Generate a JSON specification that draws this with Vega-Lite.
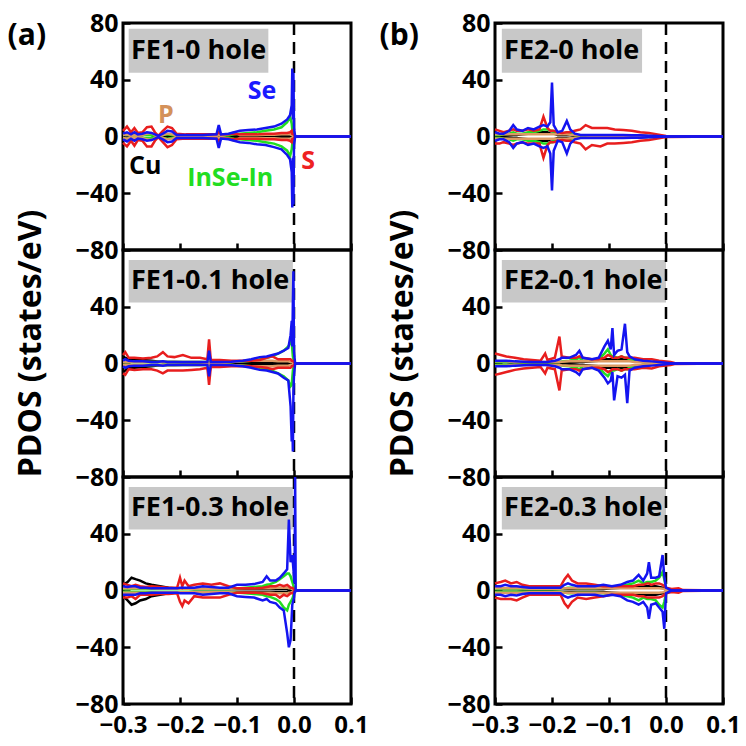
{
"$schema":"https://vega.github.io/schema/vega-lite/v6.json",
"background":"white",
"padding":{"left":7,"top":9,"right":0,"bottom":0},
"config":{
 "view":{"stroke":"black","strokeWidth":3},
 "font":"Open Sans",
 "axis":{"labelFont":"Open Sans","labelFontWeight":"bold","labelFontSize":25,"labelColor":"black","titleFont":"Open Sans","titleFontWeight":"bold","titleFontSize":32,"titleColor":"black","grid":false,"domain":false,"tickColor":"black","tickWidth":2.5,"tickSize":-7,"labelPadding":12,"labelFlush":false,"labelOverlap":false},
 "title":{"font":"Open Sans","fontWeight":"bold","fontSize":30,"color":"black","anchor":"start","frame":"bounds"}
},
"datasets":{"d":[
{"p":"a0","e":-0.3,"Cu_u":1.5,"Cu_d":-1.5,"P_u":1,"P_d":-1,"In_u":1,"In_d":-1,"S_u":4,"S_d":-4.5,"Se_u":2,"Se_d":-2},
{"p":"a0","e":-0.293,"Cu_u":2,"Cu_d":-2,"P_u":1.5,"P_d":-1.5,"In_u":1.5,"In_d":-1.5,"S_u":7,"S_d":-7,"Se_u":3,"Se_d":-3.5},
{"p":"a0","e":-0.286,"Cu_u":1,"Cu_d":-1,"P_u":0.5,"P_d":-0.5,"In_u":0.5,"In_d":-0.5,"S_u":3,"S_d":-3,"Se_u":1.5,"Se_d":-1.5},
{"p":"a0","e":-0.28,"Cu_u":1.5,"Cu_d":-1.5,"P_u":1,"P_d":-1,"In_u":1,"In_d":-1,"S_u":6,"S_d":-6.5,"Se_u":3,"Se_d":-3},
{"p":"a0","e":-0.274,"Cu_u":1,"Cu_d":-1,"P_u":0.5,"P_d":-0.5,"In_u":0.5,"In_d":-0.5,"S_u":2.5,"S_d":-2.5,"Se_u":1.5,"Se_d":-1.5},
{"p":"a0","e":-0.266,"Cu_u":1,"Cu_d":-1,"P_u":1,"P_d":-1,"In_u":1,"In_d":-1,"S_u":3,"S_d":-3,"Se_u":2,"Se_d":-2},
{"p":"a0","e":-0.258,"Cu_u":1.5,"Cu_d":-1.5,"P_u":2,"P_d":-2,"In_u":1,"In_d":-1,"S_u":6.5,"S_d":-7,"Se_u":3,"Se_d":-3},
{"p":"a0","e":-0.25,"Cu_u":1,"Cu_d":-1,"P_u":2.5,"P_d":-2.5,"In_u":1,"In_d":-1,"S_u":7,"S_d":-7,"Se_u":2.5,"Se_d":-2.5},
{"p":"a0","e":-0.244,"Cu_u":0.5,"Cu_d":-0.5,"P_u":1,"P_d":-1,"In_u":0.5,"In_d":-0.5,"S_u":3,"S_d":-3,"Se_u":1.5,"Se_d":-1.5},
{"p":"a0","e":-0.238,"Cu_u":0.3,"Cu_d":-0.3,"P_u":0.3,"P_d":-0.3,"In_u":0.3,"In_d":-0.3,"S_u":0.5,"S_d":-0.5,"Se_u":0.5,"Se_d":-0.5},
{"p":"a0","e":-0.23,"Cu_u":0.5,"Cu_d":-0.5,"P_u":1,"P_d":-1,"In_u":1,"In_d":-1,"S_u":4,"S_d":-4,"Se_u":2,"Se_d":-2},
{"p":"a0","e":-0.222,"Cu_u":0.5,"Cu_d":-0.5,"P_u":2,"P_d":-2,"In_u":1.5,"In_d":-1.5,"S_u":7,"S_d":-7.5,"Se_u":4,"Se_d":-4},
{"p":"a0","e":-0.214,"Cu_u":0.5,"Cu_d":-0.5,"P_u":1.5,"P_d":-1.5,"In_u":1,"In_d":-1,"S_u":6,"S_d":-6,"Se_u":3.5,"Se_d":-3.5},
{"p":"a0","e":-0.206,"Cu_u":0.3,"Cu_d":-0.3,"P_u":0.5,"P_d":-0.5,"In_u":0.5,"In_d":-0.5,"S_u":2,"S_d":-2,"Se_u":1,"Se_d":-1},
{"p":"a0","e":-0.19,"Cu_u":0.3,"Cu_d":-0.3,"P_u":0.5,"P_d":-0.5,"In_u":0.5,"In_d":-0.5,"S_u":1.5,"S_d":-1.5,"Se_u":1,"Se_d":-1},
{"p":"a0","e":-0.16,"Cu_u":0.3,"Cu_d":-0.3,"P_u":0.5,"P_d":-0.5,"In_u":0.5,"In_d":-0.5,"S_u":1.5,"S_d":-1.5,"Se_u":1,"Se_d":-1},
{"p":"a0","e":-0.136,"Cu_u":0.3,"Cu_d":-0.3,"P_u":0.5,"P_d":-0.5,"In_u":0.5,"In_d":-0.5,"S_u":1.5,"S_d":-1.5,"Se_u":1.5,"Se_d":-1.5},
{"p":"a0","e":-0.132,"Cu_u":0.5,"Cu_d":-0.5,"P_u":1,"P_d":-1,"In_u":2,"In_d":-2,"S_u":3,"S_d":-3,"Se_u":8,"Se_d":-8},
{"p":"a0","e":-0.128,"Cu_u":0.3,"Cu_d":-0.3,"P_u":0.5,"P_d":-0.5,"In_u":0.5,"In_d":-0.5,"S_u":1.5,"S_d":-1.5,"Se_u":1.5,"Se_d":-1.5},
{"p":"a0","e":-0.115,"Cu_u":0.3,"Cu_d":-0.3,"P_u":1.5,"P_d":-1.5,"In_u":0.8,"In_d":-0.8,"S_u":1.5,"S_d":-1.5,"Se_u":2,"Se_d":-2},
{"p":"a0","e":-0.105,"Cu_u":0.3,"Cu_d":-0.3,"P_u":3,"P_d":-3,"In_u":1.5,"In_d":-1.5,"S_u":2,"S_d":-2,"Se_u":3,"Se_d":-3},
{"p":"a0","e":-0.095,"Cu_u":0.3,"Cu_d":-0.3,"P_u":1,"P_d":-1,"In_u":2,"In_d":-2,"S_u":1.5,"S_d":-1.5,"Se_u":4,"Se_d":-4},
{"p":"a0","e":-0.08,"Cu_u":0.3,"Cu_d":-0.3,"P_u":1,"P_d":-1,"In_u":2.5,"In_d":-2.5,"S_u":1.5,"S_d":-1.5,"Se_u":4.5,"Se_d":-4.5},
{"p":"a0","e":-0.065,"Cu_u":0.3,"Cu_d":-0.3,"P_u":1,"P_d":-1,"In_u":3,"In_d":-3,"S_u":1.5,"S_d":-1.5,"Se_u":5,"Se_d":-5.5},
{"p":"a0","e":-0.05,"Cu_u":0.4,"Cu_d":-0.4,"P_u":1.2,"P_d":-1.2,"In_u":4,"In_d":-4,"S_u":2,"S_d":-2,"Se_u":6,"Se_d":-6},
{"p":"a0","e":-0.035,"Cu_u":0.4,"Cu_d":-0.4,"P_u":1.2,"P_d":-1.2,"In_u":5,"In_d":-5,"S_u":2,"S_d":-2,"Se_u":7,"Se_d":-7.5},
{"p":"a0","e":-0.022,"Cu_u":0.5,"Cu_d":-0.5,"P_u":1.5,"P_d":-1.5,"In_u":6.5,"In_d":-7,"S_u":2.5,"S_d":-2.5,"Se_u":9,"Se_d":-9},
{"p":"a0","e":-0.012,"Cu_u":0.5,"Cu_d":-0.5,"P_u":1.5,"P_d":-1.5,"In_u":10,"In_d":-10,"S_u":2.5,"S_d":-2.5,"Se_u":12,"Se_d":-13},
{"p":"a0","e":-0.007,"Cu_u":0.5,"Cu_d":-0.5,"P_u":1.5,"P_d":-1.5,"In_u":14,"In_d":-14,"S_u":3,"S_d":-3,"Se_u":15,"Se_d":-16},
{"p":"a0","e":-0.004,"Cu_u":0.5,"Cu_d":-0.5,"P_u":1,"P_d":-1,"In_u":9,"In_d":-9,"S_u":4,"S_d":-4,"Se_u":22,"Se_d":-25},
{"p":"a0","e":-0.003,"Cu_u":0.5,"Cu_d":-0.5,"P_u":1,"P_d":-1,"In_u":5,"In_d":-5,"S_u":2,"S_d":-2,"Se_u":48,"Se_d":-50},
{"p":"a0","e":-0.002,"Cu_u":0.3,"Cu_d":-0.3,"P_u":0.5,"P_d":-0.5,"In_u":3,"In_d":-3,"S_u":2,"S_d":-2,"Se_u":12,"Se_d":-15},
{"p":"a0","e":-0.001,"Cu_u":0.3,"Cu_d":-0.3,"P_u":0.5,"P_d":-0.5,"In_u":3,"In_d":-3,"S_u":1.5,"S_d":-1.5,"Se_u":45,"Se_d":-48},
{"p":"a0","e":0,"Cu_u":0.2,"Cu_d":-0.2,"P_u":0.3,"P_d":-0.3,"In_u":2,"In_d":-2,"S_u":1,"S_d":-1,"Se_u":6,"Se_d":-6},
{"p":"a0","e":0.002,"Cu_u":0,"Cu_d":0,"P_u":0,"P_d":0,"In_u":0,"In_d":0,"S_u":0,"S_d":0,"Se_u":0,"Se_d":0},
{"p":"a0","e":0.1,"Cu_u":0,"Cu_d":0,"P_u":0,"P_d":0,"In_u":0,"In_d":0,"S_u":0,"S_d":0,"Se_u":0,"Se_d":0},

{"p":"a1","e":-0.3,"Cu_u":5,"Cu_d":-6,"P_u":1,"P_d":-1,"In_u":1,"In_d":-1,"S_u":6,"S_d":-7,"Se_u":2,"Se_d":-2},
{"p":"a1","e":-0.296,"Cu_u":4,"Cu_d":-5,"P_u":1,"P_d":-1,"In_u":1,"In_d":-1,"S_u":8,"S_d":-8,"Se_u":3,"Se_d":-3},
{"p":"a1","e":-0.29,"Cu_u":3,"Cu_d":-3,"P_u":1,"P_d":-1,"In_u":1,"In_d":-1,"S_u":4,"S_d":-4,"Se_u":2,"Se_d":-2},
{"p":"a1","e":-0.28,"Cu_u":3,"Cu_d":-3,"P_u":1,"P_d":-1,"In_u":1,"In_d":-1,"S_u":4,"S_d":-4.5,"Se_u":1.5,"Se_d":-1.5},
{"p":"a1","e":-0.265,"Cu_u":2.5,"Cu_d":-2.5,"P_u":1,"P_d":-1,"In_u":1,"In_d":-1,"S_u":3.5,"S_d":-4,"Se_u":1.5,"Se_d":-1.5},
{"p":"a1","e":-0.25,"Cu_u":2,"Cu_d":-2,"P_u":1,"P_d":-1,"In_u":1,"In_d":-1,"S_u":4,"S_d":-4,"Se_u":1,"Se_d":-1},
{"p":"a1","e":-0.24,"Cu_u":1.5,"Cu_d":-1.5,"P_u":1,"P_d":-1,"In_u":1,"In_d":-1,"S_u":5,"S_d":-5,"Se_u":1,"Se_d":-1},
{"p":"a1","e":-0.23,"Cu_u":1,"Cu_d":-1,"P_u":1,"P_d":-1,"In_u":1,"In_d":-1,"S_u":8,"S_d":-7,"Se_u":1.5,"Se_d":-1.5},
{"p":"a1","e":-0.222,"Cu_u":1,"Cu_d":-1,"P_u":1,"P_d":-1,"In_u":1,"In_d":-1,"S_u":5,"S_d":-5,"Se_u":1,"Se_d":-1},
{"p":"a1","e":-0.21,"Cu_u":1,"Cu_d":-1,"P_u":1,"P_d":-1,"In_u":1,"In_d":-1,"S_u":4.5,"S_d":-5,"Se_u":1,"Se_d":-1},
{"p":"a1","e":-0.195,"Cu_u":0.8,"Cu_d":-0.8,"P_u":1,"P_d":-1,"In_u":1,"In_d":-1,"S_u":6,"S_d":-5,"Se_u":1,"Se_d":-1},
{"p":"a1","e":-0.18,"Cu_u":0.8,"Cu_d":-0.8,"P_u":1,"P_d":-1,"In_u":1,"In_d":-1,"S_u":4,"S_d":-4.5,"Se_u":1,"Se_d":-1},
{"p":"a1","e":-0.165,"Cu_u":0.8,"Cu_d":-0.8,"P_u":1,"P_d":-1,"In_u":1,"In_d":-1,"S_u":4,"S_d":-4,"Se_u":1,"Se_d":-1},
{"p":"a1","e":-0.152,"Cu_u":0.5,"Cu_d":-0.5,"P_u":0.5,"P_d":-0.5,"In_u":1,"In_d":-1,"S_u":3,"S_d":-3,"Se_u":1,"Se_d":-1},
{"p":"a1","e":-0.149,"Cu_u":0.5,"Cu_d":-0.5,"P_u":0.5,"P_d":-0.5,"In_u":1,"In_d":-1,"S_u":17,"S_d":-15,"Se_u":9,"Se_d":-9},
{"p":"a1","e":-0.146,"Cu_u":0.5,"Cu_d":-0.5,"P_u":0.5,"P_d":-0.5,"In_u":1,"In_d":-1,"S_u":2.5,"S_d":-2.5,"Se_u":1,"Se_d":-1},
{"p":"a1","e":-0.13,"Cu_u":0.5,"Cu_d":-0.5,"P_u":0.5,"P_d":-0.5,"In_u":0.8,"In_d":-0.8,"S_u":2.5,"S_d":-2.5,"Se_u":1,"Se_d":-1},
{"p":"a1","e":-0.11,"Cu_u":0.5,"Cu_d":-0.5,"P_u":1,"P_d":-1,"In_u":1,"In_d":-1,"S_u":2,"S_d":-2,"Se_u":1.2,"Se_d":-1.2},
{"p":"a1","e":-0.09,"Cu_u":0.5,"Cu_d":-0.5,"P_u":1.5,"P_d":-1.5,"In_u":1.5,"In_d":-1.5,"S_u":2,"S_d":-2,"Se_u":2,"Se_d":-2},
{"p":"a1","e":-0.075,"Cu_u":0.5,"Cu_d":-0.5,"P_u":2,"P_d":-2,"In_u":2,"In_d":-2,"S_u":2,"S_d":-2,"Se_u":3,"Se_d":-3},
{"p":"a1","e":-0.06,"Cu_u":0.5,"Cu_d":-0.5,"P_u":2,"P_d":-2,"In_u":3,"In_d":-3,"S_u":2.5,"S_d":-2.5,"Se_u":4.5,"Se_d":-4.5},
{"p":"a1","e":-0.048,"Cu_u":0.5,"Cu_d":-0.5,"P_u":2,"P_d":-2,"In_u":4,"In_d":-4,"S_u":4,"S_d":-3,"Se_u":5,"Se_d":-5},
{"p":"a1","e":-0.038,"Cu_u":0.5,"Cu_d":-0.5,"P_u":2,"P_d":-2,"In_u":5,"In_d":-5,"S_u":5,"S_d":-4,"Se_u":6,"Se_d":-6},
{"p":"a1","e":-0.028,"Cu_u":0.5,"Cu_d":-0.5,"P_u":1.5,"P_d":-1.5,"In_u":7,"In_d":-7,"S_u":3,"S_d":-3,"Se_u":7,"Se_d":-7},
{"p":"a1","e":-0.018,"Cu_u":0.5,"Cu_d":-0.5,"P_u":1.5,"P_d":-1.5,"In_u":9,"In_d":-9,"S_u":3,"S_d":-3,"Se_u":9,"Se_d":-10},
{"p":"a1","e":-0.01,"Cu_u":0.5,"Cu_d":-0.5,"P_u":1.5,"P_d":-1.5,"In_u":12,"In_d":-12,"S_u":3,"S_d":-3,"Se_u":11,"Se_d":-12},
{"p":"a1","e":-0.006,"Cu_u":0.5,"Cu_d":-0.5,"P_u":1,"P_d":-1,"In_u":15,"In_d":-16,"S_u":3,"S_d":-3,"Se_u":20,"Se_d":-30},
{"p":"a1","e":-0.004,"Cu_u":0.5,"Cu_d":-0.5,"P_u":1,"P_d":-1,"In_u":14,"In_d":-15,"S_u":2,"S_d":-2,"Se_u":30,"Se_d":-55},
{"p":"a1","e":-0.003,"Cu_u":0.5,"Cu_d":-0.5,"P_u":1,"P_d":-1,"In_u":10,"In_d":-10,"S_u":2,"S_d":-2,"Se_u":12,"Se_d":-38},
{"p":"a1","e":-0.002,"Cu_u":0.3,"Cu_d":-0.3,"P_u":0.5,"P_d":-0.5,"In_u":5,"In_d":-5,"S_u":2,"S_d":-2,"Se_u":42,"Se_d":-62},
{"p":"a1","e":-0.001,"Cu_u":0.3,"Cu_d":-0.3,"P_u":0.5,"P_d":-0.5,"In_u":3,"In_d":-3,"S_u":1.5,"S_d":-1.5,"Se_u":65,"Se_d":-20},
{"p":"a1","e":0,"Cu_u":0.2,"Cu_d":-0.2,"P_u":0.3,"P_d":-0.3,"In_u":2,"In_d":-2,"S_u":1,"S_d":-1,"Se_u":8,"Se_d":-8},
{"p":"a1","e":0.002,"Cu_u":0,"Cu_d":0,"P_u":0,"P_d":0,"In_u":0,"In_d":0,"S_u":0,"S_d":0,"Se_u":0,"Se_d":0},
{"p":"a1","e":0.1,"Cu_u":0,"Cu_d":0,"P_u":0,"P_d":0,"In_u":0,"In_d":0,"S_u":0,"S_d":0,"Se_u":0,"Se_d":0},

{"p":"a2","e":-0.3,"Cu_u":4,"Cu_d":-4,"P_u":1.5,"P_d":-1.5,"In_u":1,"In_d":-1,"S_u":5,"S_d":-5,"Se_u":3,"Se_d":-3},
{"p":"a2","e":-0.292,"Cu_u":6,"Cu_d":-7,"P_u":1.5,"P_d":-1.5,"In_u":1,"In_d":-1,"S_u":4,"S_d":-5,"Se_u":2.5,"Se_d":-3},
{"p":"a2","e":-0.285,"Cu_u":9,"Cu_d":-10,"P_u":1.5,"P_d":-1.5,"In_u":1,"In_d":-1,"S_u":3,"S_d":-4,"Se_u":3,"Se_d":-3},
{"p":"a2","e":-0.278,"Cu_u":8,"Cu_d":-9,"P_u":1.5,"P_d":-1.5,"In_u":1,"In_d":-1,"S_u":4,"S_d":-6,"Se_u":3,"Se_d":-3},
{"p":"a2","e":-0.27,"Cu_u":7,"Cu_d":-7,"P_u":1.5,"P_d":-1.5,"In_u":1,"In_d":-1,"S_u":3,"S_d":-3,"Se_u":2,"Se_d":-2},
{"p":"a2","e":-0.26,"Cu_u":5,"Cu_d":-6,"P_u":1.5,"P_d":-1.5,"In_u":1,"In_d":-1,"S_u":2.5,"S_d":-3,"Se_u":2,"Se_d":-2},
{"p":"a2","e":-0.25,"Cu_u":4,"Cu_d":-4,"P_u":1.5,"P_d":-1.5,"In_u":1,"In_d":-1,"S_u":3,"S_d":-3,"Se_u":1.5,"Se_d":-1.5},
{"p":"a2","e":-0.235,"Cu_u":3,"Cu_d":-3,"P_u":1.2,"P_d":-1.2,"In_u":1,"In_d":-1,"S_u":2.5,"S_d":-2.5,"Se_u":1.5,"Se_d":-1.5},
{"p":"a2","e":-0.22,"Cu_u":2,"Cu_d":-2,"P_u":1.2,"P_d":-1.2,"In_u":1,"In_d":-1,"S_u":2,"S_d":-2.5,"Se_u":1.5,"Se_d":-1.5},
{"p":"a2","e":-0.205,"Cu_u":1.5,"Cu_d":-1.5,"P_u":1.2,"P_d":-1.2,"In_u":1,"In_d":-1,"S_u":2,"S_d":-2,"Se_u":1.5,"Se_d":-1.5},
{"p":"a2","e":-0.2,"Cu_u":1.5,"Cu_d":-1.5,"P_u":1.2,"P_d":-1.2,"In_u":1,"In_d":-1,"S_u":9,"S_d":-8,"Se_u":2,"Se_d":-2},
{"p":"a2","e":-0.196,"Cu_u":1.5,"Cu_d":-1.5,"P_u":1.2,"P_d":-1.2,"In_u":1,"In_d":-1,"S_u":3,"S_d":-11,"Se_u":2,"Se_d":-2},
{"p":"a2","e":-0.192,"Cu_u":1.5,"Cu_d":-1.5,"P_u":1.2,"P_d":-1.2,"In_u":1,"In_d":-1,"S_u":7,"S_d":-7,"Se_u":2,"Se_d":-2},
{"p":"a2","e":-0.185,"Cu_u":1.2,"Cu_d":-1.2,"P_u":1.2,"P_d":-1.2,"In_u":1,"In_d":-1,"S_u":3,"S_d":-9,"Se_u":2,"Se_d":-2},
{"p":"a2","e":-0.175,"Cu_u":1,"Cu_d":-1,"P_u":1.2,"P_d":-1.2,"In_u":1,"In_d":-1,"S_u":4,"S_d":-4,"Se_u":2,"Se_d":-2},
{"p":"a2","e":-0.16,"Cu_u":1,"Cu_d":-1,"P_u":1.2,"P_d":-1.2,"In_u":1,"In_d":-1,"S_u":5,"S_d":-5,"Se_u":3,"Se_d":-3},
{"p":"a2","e":-0.145,"Cu_u":1,"Cu_d":-1,"P_u":1.2,"P_d":-1.2,"In_u":1,"In_d":-1,"S_u":4,"S_d":-5,"Se_u":2.5,"Se_d":-2.5},
{"p":"a2","e":-0.13,"Cu_u":1,"Cu_d":-1,"P_u":1.2,"P_d":-1.2,"In_u":1,"In_d":-1,"S_u":5,"S_d":-5,"Se_u":2,"Se_d":-2},
{"p":"a2","e":-0.115,"Cu_u":1,"Cu_d":-1,"P_u":1.2,"P_d":-1.2,"In_u":1,"In_d":-1,"S_u":3,"S_d":-3,"Se_u":2,"Se_d":-2},
{"p":"a2","e":-0.1,"Cu_u":1,"Cu_d":-1,"P_u":1.5,"P_d":-1.5,"In_u":1.5,"In_d":-1.5,"S_u":1.5,"S_d":-1.5,"Se_u":4,"Se_d":-4},
{"p":"a2","e":-0.085,"Cu_u":1,"Cu_d":-1,"P_u":1.5,"P_d":-1.5,"In_u":2,"In_d":-2,"S_u":1.5,"S_d":-1.5,"Se_u":4,"Se_d":-4.5},
{"p":"a2","e":-0.07,"Cu_u":1,"Cu_d":-1,"P_u":1.5,"P_d":-1.5,"In_u":2.5,"In_d":-2.5,"S_u":1.5,"S_d":-1.5,"Se_u":4.5,"Se_d":-5},
{"p":"a2","e":-0.055,"Cu_u":1,"Cu_d":-1,"P_u":1.5,"P_d":-1.5,"In_u":3,"In_d":-3,"S_u":2,"S_d":-2,"Se_u":6,"Se_d":-7},
{"p":"a2","e":-0.048,"Cu_u":1,"Cu_d":-1,"P_u":1.5,"P_d":-1.5,"In_u":4,"In_d":-4,"S_u":2.5,"S_d":-2.5,"Se_u":10,"Se_d":-6},
{"p":"a2","e":-0.042,"Cu_u":1,"Cu_d":-1,"P_u":1.5,"P_d":-1.5,"In_u":4.5,"In_d":-4.5,"S_u":3,"S_d":-3,"Se_u":7,"Se_d":-8},
{"p":"a2","e":-0.032,"Cu_u":1,"Cu_d":-1,"P_u":2,"P_d":-2,"In_u":6,"In_d":-6,"S_u":3,"S_d":-3,"Se_u":7,"Se_d":-9},
{"p":"a2","e":-0.025,"Cu_u":1,"Cu_d":-1,"P_u":2,"P_d":-2,"In_u":8,"In_d":-8,"S_u":4,"S_d":-5,"Se_u":9,"Se_d":-12},
{"p":"a2","e":-0.018,"Cu_u":1,"Cu_d":-1,"P_u":2,"P_d":-2,"In_u":10,"In_d":-12,"S_u":3,"S_d":-3,"Se_u":12,"Se_d":-14},
{"p":"a2","e":-0.012,"Cu_u":1,"Cu_d":-1,"P_u":2,"P_d":-2,"In_u":12,"In_d":-14,"S_u":4,"S_d":-4,"Se_u":15,"Se_d":-30},
{"p":"a2","e":-0.009,"Cu_u":0.5,"Cu_d":-0.5,"P_u":1.5,"P_d":-1.5,"In_u":12,"In_d":-10,"S_u":3,"S_d":-3,"Se_u":50,"Se_d":-40},
{"p":"a2","e":-0.006,"Cu_u":0.5,"Cu_d":-0.5,"P_u":1.5,"P_d":-1.5,"In_u":10,"In_d":-8,"S_u":2,"S_d":-2,"Se_u":20,"Se_d":-35},
{"p":"a2","e":-0.003,"Cu_u":0.5,"Cu_d":-0.5,"P_u":1,"P_d":-1,"In_u":6,"In_d":-6,"S_u":2,"S_d":-2,"Se_u":25,"Se_d":-10},
{"p":"a2","e":0,"Cu_u":0.3,"Cu_d":-0.3,"P_u":0.5,"P_d":-0.5,"In_u":2,"In_d":-2,"S_u":1,"S_d":-1,"Se_u":10,"Se_d":-5},
{"p":"a2","e":0.001,"Cu_u":0,"Cu_d":0,"P_u":0,"P_d":0,"In_u":0,"In_d":0,"S_u":0,"S_d":0,"Se_u":5,"Se_d":-1},
{"p":"a2","e":0.002,"Cu_u":0,"Cu_d":0,"P_u":0,"P_d":0,"In_u":0,"In_d":0,"S_u":0,"S_d":0,"Se_u":80,"Se_d":-1},
{"p":"a2","e":0.003,"Cu_u":0,"Cu_d":0,"P_u":0,"P_d":0,"In_u":0,"In_d":0,"S_u":0,"S_d":0,"Se_u":0,"Se_d":0},
{"p":"a2","e":0.1,"Cu_u":0,"Cu_d":0,"P_u":0,"P_d":0,"In_u":0,"In_d":0,"S_u":0,"S_d":0,"Se_u":0,"Se_d":0},

{"p":"b0","e":-0.3,"Cu_u":0.5,"Cu_d":-0.5,"P_u":1.5,"P_d":-1.5,"In_u":1,"In_d":-1,"S_u":5,"S_d":-5,"Se_u":3,"Se_d":-3},
{"p":"b0","e":-0.292,"Cu_u":0.5,"Cu_d":-0.5,"P_u":1.5,"P_d":-1.5,"In_u":1,"In_d":-1,"S_u":4,"S_d":-5,"Se_u":2,"Se_d":-2},
{"p":"b0","e":-0.285,"Cu_u":0.5,"Cu_d":-0.5,"P_u":1.5,"P_d":-1.5,"In_u":1.5,"In_d":-1.5,"S_u":3,"S_d":-4,"Se_u":2,"Se_d":-2},
{"p":"b0","e":-0.275,"Cu_u":0.8,"Cu_d":-0.8,"P_u":1.5,"P_d":-1.5,"In_u":2,"In_d":-2,"S_u":4,"S_d":-5,"Se_u":4,"Se_d":-4},
{"p":"b0","e":-0.268,"Cu_u":1,"Cu_d":-1,"P_u":1.5,"P_d":-1.5,"In_u":3,"In_d":-3,"S_u":5,"S_d":-6,"Se_u":8,"Se_d":-8},
{"p":"b0","e":-0.262,"Cu_u":1,"Cu_d":-1,"P_u":1.5,"P_d":-1.5,"In_u":2,"In_d":-2,"S_u":4,"S_d":-5,"Se_u":5,"Se_d":-5},
{"p":"b0","e":-0.252,"Cu_u":1.5,"Cu_d":-1.5,"P_u":1.5,"P_d":-1.5,"In_u":2,"In_d":-2,"S_u":4,"S_d":-4,"Se_u":4,"Se_d":-4},
{"p":"b0","e":-0.242,"Cu_u":2,"Cu_d":-2,"P_u":1.5,"P_d":-1.5,"In_u":3,"In_d":-3,"S_u":5,"S_d":-5,"Se_u":6,"Se_d":-6},
{"p":"b0","e":-0.232,"Cu_u":2,"Cu_d":-2,"P_u":1.5,"P_d":-1.5,"In_u":3,"In_d":-3,"S_u":4,"S_d":-5,"Se_u":5,"Se_d":-5},
{"p":"b0","e":-0.222,"Cu_u":3,"Cu_d":-3,"P_u":1.5,"P_d":-1.5,"In_u":4,"In_d":-4,"S_u":5,"S_d":-5,"Se_u":7,"Se_d":-7},
{"p":"b0","e":-0.215,"Cu_u":3,"Cu_d":-3,"P_u":1.5,"P_d":-1.5,"In_u":5,"In_d":-5,"S_u":14,"S_d":-15,"Se_u":8,"Se_d":-8},
{"p":"b0","e":-0.208,"Cu_u":3,"Cu_d":-3,"P_u":1.5,"P_d":-1.5,"In_u":5,"In_d":-5,"S_u":6,"S_d":-6,"Se_u":7,"Se_d":-7},
{"p":"b0","e":-0.203,"Cu_u":2,"Cu_d":-2,"P_u":1.5,"P_d":-1.5,"In_u":4,"In_d":-4,"S_u":4,"S_d":-4,"Se_u":10,"Se_d":-12},
{"p":"b0","e":-0.2,"Cu_u":2,"Cu_d":-2,"P_u":1.5,"P_d":-1.5,"In_u":4,"In_d":-4,"S_u":4,"S_d":-4,"Se_u":38,"Se_d":-38},
{"p":"b0","e":-0.197,"Cu_u":2,"Cu_d":-2,"P_u":1.5,"P_d":-1.5,"In_u":3,"In_d":-3,"S_u":4,"S_d":-4,"Se_u":8,"Se_d":-10},
{"p":"b0","e":-0.19,"Cu_u":1,"Cu_d":-1,"P_u":1.5,"P_d":-1.5,"In_u":2,"In_d":-2,"S_u":3,"S_d":-3,"Se_u":3,"Se_d":-3},
{"p":"b0","e":-0.182,"Cu_u":1,"Cu_d":-1,"P_u":1.5,"P_d":-1.5,"In_u":2,"In_d":-2,"S_u":2.5,"S_d":-2.5,"Se_u":4,"Se_d":-4},
{"p":"b0","e":-0.174,"Cu_u":1,"Cu_d":-1,"P_u":1.5,"P_d":-1.5,"In_u":3,"In_d":-3,"S_u":3,"S_d":-3,"Se_u":11,"Se_d":-12},
{"p":"b0","e":-0.168,"Cu_u":1,"Cu_d":-1,"P_u":1.2,"P_d":-1.2,"In_u":2,"In_d":-2,"S_u":3,"S_d":-3,"Se_u":5,"Se_d":-5},
{"p":"b0","e":-0.16,"Cu_u":0.5,"Cu_d":-0.5,"P_u":1,"P_d":-1,"In_u":1,"In_d":-1,"S_u":4,"S_d":-4,"Se_u":2,"Se_d":-2},
{"p":"b0","e":-0.15,"Cu_u":0.5,"Cu_d":-0.5,"P_u":0.8,"P_d":-0.8,"In_u":0.8,"In_d":-0.8,"S_u":5,"S_d":-5,"Se_u":1,"Se_d":-1},
{"p":"b0","e":-0.141,"Cu_u":0.5,"Cu_d":-0.5,"P_u":0.8,"P_d":-0.8,"In_u":0.8,"In_d":-0.8,"S_u":8,"S_d":-9,"Se_u":1,"Se_d":-1},
{"p":"b0","e":-0.13,"Cu_u":0.5,"Cu_d":-0.5,"P_u":0.5,"P_d":-0.5,"In_u":0.5,"In_d":-0.5,"S_u":6,"S_d":-6,"Se_u":1,"Se_d":-1},
{"p":"b0","e":-0.115,"Cu_u":0.5,"Cu_d":-0.5,"P_u":0.5,"P_d":-0.5,"In_u":0.5,"In_d":-0.5,"S_u":6,"S_d":-7,"Se_u":1,"Se_d":-1},
{"p":"b0","e":-0.103,"Cu_u":0.5,"Cu_d":-0.5,"P_u":0.5,"P_d":-0.5,"In_u":0.5,"In_d":-0.5,"S_u":6,"S_d":-5,"Se_u":1,"Se_d":-1},
{"p":"b0","e":-0.09,"Cu_u":0.3,"Cu_d":-0.3,"P_u":0.5,"P_d":-0.5,"In_u":0.5,"In_d":-0.5,"S_u":5,"S_d":-5,"Se_u":1,"Se_d":-1},
{"p":"b0","e":-0.075,"Cu_u":0.3,"Cu_d":-0.3,"P_u":0.5,"P_d":-0.5,"In_u":0.5,"In_d":-0.5,"S_u":4.5,"S_d":-4.5,"Se_u":1,"Se_d":-1},
{"p":"b0","e":-0.06,"Cu_u":0.3,"Cu_d":-0.3,"P_u":0.5,"P_d":-0.5,"In_u":0.5,"In_d":-0.5,"S_u":4,"S_d":-4,"Se_u":0.8,"Se_d":-0.8},
{"p":"b0","e":-0.045,"Cu_u":0.3,"Cu_d":-0.3,"P_u":0.5,"P_d":-0.5,"In_u":0.5,"In_d":-0.5,"S_u":3,"S_d":-3,"Se_u":0.8,"Se_d":-0.8},
{"p":"b0","e":-0.03,"Cu_u":0.2,"Cu_d":-0.2,"P_u":0.3,"P_d":-0.3,"In_u":0.3,"In_d":-0.3,"S_u":2.5,"S_d":-2.5,"Se_u":0.5,"Se_d":-0.5},
{"p":"b0","e":-0.015,"Cu_u":0.2,"Cu_d":-0.2,"P_u":0.3,"P_d":-0.3,"In_u":0.3,"In_d":-0.3,"S_u":1.5,"S_d":-1.5,"Se_u":0.3,"Se_d":-0.3},
{"p":"b0","e":0,"Cu_u":0,"Cu_d":0,"P_u":0,"P_d":0,"In_u":0,"In_d":0,"S_u":0.3,"S_d":-0.3,"Se_u":0,"Se_d":0},
{"p":"b0","e":0.1,"Cu_u":0,"Cu_d":0,"P_u":0,"P_d":0,"In_u":0,"In_d":0,"S_u":0,"S_d":0,"Se_u":0,"Se_d":0},

{"p":"b1","e":-0.3,"Cu_u":1,"Cu_d":-1,"P_u":1.5,"P_d":-1.5,"In_u":1,"In_d":-1,"S_u":7,"S_d":-8,"Se_u":2,"Se_d":-2},
{"p":"b1","e":-0.29,"Cu_u":1,"Cu_d":-1,"P_u":1.5,"P_d":-1.5,"In_u":1,"In_d":-1,"S_u":6,"S_d":-7,"Se_u":2,"Se_d":-2},
{"p":"b1","e":-0.28,"Cu_u":1,"Cu_d":-1,"P_u":1.5,"P_d":-1.5,"In_u":1,"In_d":-1,"S_u":5,"S_d":-6,"Se_u":2,"Se_d":-2},
{"p":"b1","e":-0.265,"Cu_u":0.8,"Cu_d":-0.8,"P_u":1,"P_d":-1,"In_u":1,"In_d":-1,"S_u":4,"S_d":-4.5,"Se_u":1.5,"Se_d":-1.5},
{"p":"b1","e":-0.25,"Cu_u":0.5,"Cu_d":-0.5,"P_u":1,"P_d":-1,"In_u":0.8,"In_d":-0.8,"S_u":3,"S_d":-3.5,"Se_u":1.2,"Se_d":-1.2},
{"p":"b1","e":-0.235,"Cu_u":0.5,"Cu_d":-0.5,"P_u":1,"P_d":-1,"In_u":0.8,"In_d":-0.8,"S_u":2.5,"S_d":-3,"Se_u":1,"Se_d":-1},
{"p":"b1","e":-0.22,"Cu_u":0.5,"Cu_d":-0.5,"P_u":1,"P_d":-1,"In_u":0.8,"In_d":-0.8,"S_u":2,"S_d":-2.5,"Se_u":1,"Se_d":-1},
{"p":"b1","e":-0.212,"Cu_u":0.5,"Cu_d":-0.5,"P_u":1,"P_d":-1,"In_u":0.8,"In_d":-0.8,"S_u":7,"S_d":-7,"Se_u":1,"Se_d":-1},
{"p":"b1","e":-0.208,"Cu_u":0.5,"Cu_d":-0.5,"P_u":1,"P_d":-1,"In_u":0.8,"In_d":-0.8,"S_u":2.5,"S_d":-3,"Se_u":1,"Se_d":-1},
{"p":"b1","e":-0.195,"Cu_u":0.5,"Cu_d":-0.5,"P_u":1,"P_d":-1,"In_u":1,"In_d":-1,"S_u":4,"S_d":-4,"Se_u":2,"Se_d":-2},
{"p":"b1","e":-0.187,"Cu_u":0.5,"Cu_d":-0.5,"P_u":1,"P_d":-1,"In_u":1,"In_d":-1,"S_u":19,"S_d":-19,"Se_u":3,"Se_d":-3},
{"p":"b1","e":-0.183,"Cu_u":0.5,"Cu_d":-0.5,"P_u":1.2,"P_d":-1.2,"In_u":1.5,"In_d":-1.5,"S_u":5,"S_d":-5,"Se_u":4,"Se_d":-4},
{"p":"b1","e":-0.17,"Cu_u":0.5,"Cu_d":-0.5,"P_u":1.5,"P_d":-1.5,"In_u":2,"In_d":-2,"S_u":4,"S_d":-4,"Se_u":4,"Se_d":-4},
{"p":"b1","e":-0.158,"Cu_u":0.8,"Cu_d":-0.8,"P_u":1.5,"P_d":-1.5,"In_u":3,"In_d":-3,"S_u":4,"S_d":-4,"Se_u":6,"Se_d":-6},
{"p":"b1","e":-0.152,"Cu_u":1,"Cu_d":-1,"P_u":1.5,"P_d":-1.5,"In_u":4,"In_d":-4,"S_u":5,"S_d":-5,"Se_u":9,"Se_d":-8},
{"p":"b1","e":-0.146,"Cu_u":1,"Cu_d":-1,"P_u":1.5,"P_d":-1.5,"In_u":2,"In_d":-2,"S_u":4,"S_d":-4,"Se_u":4,"Se_d":-4},
{"p":"b1","e":-0.13,"Cu_u":1.5,"Cu_d":-1.5,"P_u":1.5,"P_d":-1.5,"In_u":2,"In_d":-2,"S_u":3,"S_d":-3,"Se_u":3,"Se_d":-3},
{"p":"b1","e":-0.118,"Cu_u":2,"Cu_d":-2,"P_u":1.5,"P_d":-1.5,"In_u":3,"In_d":-3,"S_u":3,"S_d":-3,"Se_u":4,"Se_d":-5},
{"p":"b1","e":-0.108,"Cu_u":3,"Cu_d":-3,"P_u":1.5,"P_d":-1.5,"In_u":7,"In_d":-7,"S_u":4,"S_d":-4,"Se_u":12,"Se_d":-10},
{"p":"b1","e":-0.102,"Cu_u":3,"Cu_d":-3,"P_u":1.5,"P_d":-1.5,"In_u":10,"In_d":-9,"S_u":6,"S_d":-6,"Se_u":16,"Se_d":-14},
{"p":"b1","e":-0.097,"Cu_u":3,"Cu_d":-3,"P_u":1.5,"P_d":-1.5,"In_u":6,"In_d":-6,"S_u":5,"S_d":-5,"Se_u":10,"Se_d":-12},
{"p":"b1","e":-0.094,"Cu_u":3,"Cu_d":-3,"P_u":1.5,"P_d":-1.5,"In_u":5,"In_d":-5,"S_u":4,"S_d":-4,"Se_u":25,"Se_d":-6},
{"p":"b1","e":-0.091,"Cu_u":3,"Cu_d":-3,"P_u":1.5,"P_d":-1.5,"In_u":5,"In_d":-5,"S_u":4,"S_d":-4,"Se_u":6,"Se_d":-26},
{"p":"b1","e":-0.085,"Cu_u":3,"Cu_d":-3,"P_u":1.5,"P_d":-1.5,"In_u":4,"In_d":-4,"S_u":4,"S_d":-4,"Se_u":9,"Se_d":-9},
{"p":"b1","e":-0.078,"Cu_u":3,"Cu_d":-3,"P_u":1.5,"P_d":-1.5,"In_u":5,"In_d":-5,"S_u":5,"S_d":-5,"Se_u":10,"Se_d":-10},
{"p":"b1","e":-0.072,"Cu_u":3,"Cu_d":-3,"P_u":1.5,"P_d":-1.5,"In_u":4,"In_d":-4,"S_u":4,"S_d":-4,"Se_u":28,"Se_d":-8},
{"p":"b1","e":-0.068,"Cu_u":3,"Cu_d":-3,"P_u":1.5,"P_d":-1.5,"In_u":4,"In_d":-4,"S_u":4,"S_d":-4,"Se_u":8,"Se_d":-28},
{"p":"b1","e":-0.064,"Cu_u":2,"Cu_d":-2,"P_u":1.5,"P_d":-1.5,"In_u":3,"In_d":-3,"S_u":4,"S_d":-4,"Se_u":5,"Se_d":-5},
{"p":"b1","e":-0.055,"Cu_u":1.5,"Cu_d":-1.5,"P_u":1,"P_d":-1,"In_u":2,"In_d":-2,"S_u":4,"S_d":-4,"Se_u":3,"Se_d":-3},
{"p":"b1","e":-0.04,"Cu_u":1,"Cu_d":-1,"P_u":0.8,"P_d":-0.8,"In_u":1,"In_d":-1,"S_u":3,"S_d":-3,"Se_u":2,"Se_d":-2},
{"p":"b1","e":-0.025,"Cu_u":0.5,"Cu_d":-0.5,"P_u":0.5,"P_d":-0.5,"In_u":0.8,"In_d":-0.8,"S_u":3,"S_d":-3.5,"Se_u":1.5,"Se_d":-1.5},
{"p":"b1","e":-0.012,"Cu_u":0.3,"Cu_d":-0.3,"P_u":0.3,"P_d":-0.3,"In_u":0.5,"In_d":-0.5,"S_u":2,"S_d":-2,"Se_u":1,"Se_d":-1},
{"p":"b1","e":0,"Cu_u":0.2,"Cu_d":-0.2,"P_u":0.2,"P_d":-0.2,"In_u":0.3,"In_d":-0.3,"S_u":1.5,"S_d":-1.5,"Se_u":0.5,"Se_d":-0.5},
{"p":"b1","e":0.008,"Cu_u":0,"Cu_d":0,"P_u":0,"P_d":0,"In_u":0,"In_d":0,"S_u":1,"S_d":-1,"Se_u":0.2,"Se_d":-0.2},
{"p":"b1","e":0.015,"Cu_u":0,"Cu_d":0,"P_u":0,"P_d":0,"In_u":0,"In_d":0,"S_u":0.3,"S_d":-0.3,"Se_u":0,"Se_d":0},
{"p":"b1","e":0.1,"Cu_u":0,"Cu_d":0,"P_u":0,"P_d":0,"In_u":0,"In_d":0,"S_u":0,"S_d":0,"Se_u":0,"Se_d":0},

{"p":"b2","e":-0.3,"Cu_u":1,"Cu_d":-1,"P_u":1.5,"P_d":-1.5,"In_u":1,"In_d":-1,"S_u":5,"S_d":-5,"Se_u":3,"Se_d":-3},
{"p":"b2","e":-0.29,"Cu_u":1,"Cu_d":-1,"P_u":1.5,"P_d":-1.5,"In_u":1,"In_d":-1,"S_u":6,"S_d":-6,"Se_u":3,"Se_d":-3},
{"p":"b2","e":-0.282,"Cu_u":1,"Cu_d":-1,"P_u":1.5,"P_d":-1.5,"In_u":1,"In_d":-1,"S_u":7,"S_d":-6,"Se_u":4,"Se_d":-4},
{"p":"b2","e":-0.272,"Cu_u":1,"Cu_d":-1,"P_u":1.5,"P_d":-1.5,"In_u":1,"In_d":-1,"S_u":5,"S_d":-6,"Se_u":3,"Se_d":-3},
{"p":"b2","e":-0.262,"Cu_u":1,"Cu_d":-1,"P_u":1.5,"P_d":-1.5,"In_u":1,"In_d":-1,"S_u":6,"S_d":-7,"Se_u":3,"Se_d":-3.5},
{"p":"b2","e":-0.252,"Cu_u":0.8,"Cu_d":-0.8,"P_u":1.5,"P_d":-1.5,"In_u":1,"In_d":-1,"S_u":4,"S_d":-5,"Se_u":2.5,"Se_d":-2.5},
{"p":"b2","e":-0.24,"Cu_u":0.8,"Cu_d":-0.8,"P_u":1.2,"P_d":-1.2,"In_u":1,"In_d":-1,"S_u":3,"S_d":-3,"Se_u":2,"Se_d":-2},
{"p":"b2","e":-0.22,"Cu_u":0.8,"Cu_d":-0.8,"P_u":1.2,"P_d":-1.2,"In_u":1,"In_d":-1,"S_u":3,"S_d":-3,"Se_u":2,"Se_d":-2},
{"p":"b2","e":-0.2,"Cu_u":0.8,"Cu_d":-0.8,"P_u":1.2,"P_d":-1.2,"In_u":1,"In_d":-1,"S_u":3,"S_d":-3,"Se_u":2,"Se_d":-2},
{"p":"b2","e":-0.185,"Cu_u":1,"Cu_d":-1,"P_u":1.2,"P_d":-1.2,"In_u":1,"In_d":-1,"S_u":3,"S_d":-3,"Se_u":2,"Se_d":-2},
{"p":"b2","e":-0.178,"Cu_u":1,"Cu_d":-1,"P_u":1.5,"P_d":-1.5,"In_u":1.5,"In_d":-1.5,"S_u":8,"S_d":-9,"Se_u":4,"Se_d":-4},
{"p":"b2","e":-0.172,"Cu_u":1,"Cu_d":-1,"P_u":1.5,"P_d":-1.5,"In_u":2,"In_d":-2,"S_u":11,"S_d":-12,"Se_u":5,"Se_d":-5},
{"p":"b2","e":-0.165,"Cu_u":1,"Cu_d":-1,"P_u":1.5,"P_d":-1.5,"In_u":2,"In_d":-2,"S_u":7,"S_d":-8,"Se_u":4,"Se_d":-4},
{"p":"b2","e":-0.155,"Cu_u":1,"Cu_d":-1,"P_u":1.5,"P_d":-1.5,"In_u":1.5,"In_d":-1.5,"S_u":5,"S_d":-5,"Se_u":3,"Se_d":-3},
{"p":"b2","e":-0.14,"Cu_u":1,"Cu_d":-1,"P_u":1.5,"P_d":-1.5,"In_u":1.5,"In_d":-1.5,"S_u":5,"S_d":-6,"Se_u":3,"Se_d":-3},
{"p":"b2","e":-0.125,"Cu_u":1,"Cu_d":-1,"P_u":1.5,"P_d":-1.5,"In_u":1.5,"In_d":-1.5,"S_u":4,"S_d":-5,"Se_u":3,"Se_d":-3},
{"p":"b2","e":-0.11,"Cu_u":1,"Cu_d":-1,"P_u":1.5,"P_d":-1.5,"In_u":2,"In_d":-2,"S_u":3,"S_d":-4,"Se_u":4,"Se_d":-4},
{"p":"b2","e":-0.095,"Cu_u":1.5,"Cu_d":-1.5,"P_u":1.5,"P_d":-1.5,"In_u":2,"In_d":-2,"S_u":3,"S_d":-3,"Se_u":3,"Se_d":-3},
{"p":"b2","e":-0.08,"Cu_u":2,"Cu_d":-2,"P_u":1.5,"P_d":-1.5,"In_u":3,"In_d":-3,"S_u":3,"S_d":-3,"Se_u":4,"Se_d":-4},
{"p":"b2","e":-0.068,"Cu_u":2,"Cu_d":-2,"P_u":1.5,"P_d":-1.5,"In_u":4,"In_d":-4,"S_u":3,"S_d":-3,"Se_u":6,"Se_d":-7},
{"p":"b2","e":-0.058,"Cu_u":2.5,"Cu_d":-2.5,"P_u":1.5,"P_d":-1.5,"In_u":5,"In_d":-5,"S_u":3,"S_d":-3,"Se_u":7,"Se_d":-8},
{"p":"b2","e":-0.048,"Cu_u":3,"Cu_d":-3,"P_u":1.5,"P_d":-1.5,"In_u":7,"In_d":-7,"S_u":4,"S_d":-4,"Se_u":11,"Se_d":-10},
{"p":"b2","e":-0.04,"Cu_u":3,"Cu_d":-3,"P_u":1.5,"P_d":-1.5,"In_u":5,"In_d":-5,"S_u":4,"S_d":-4,"Se_u":7,"Se_d":-8},
{"p":"b2","e":-0.033,"Cu_u":3,"Cu_d":-3,"P_u":1.5,"P_d":-1.5,"In_u":6,"In_d":-6,"S_u":5,"S_d":-5,"Se_u":12,"Se_d":-12},
{"p":"b2","e":-0.03,"Cu_u":3,"Cu_d":-3,"P_u":1.5,"P_d":-1.5,"In_u":6,"In_d":-6,"S_u":5,"S_d":-5,"Se_u":20,"Se_d":-20},
{"p":"b2","e":-0.026,"Cu_u":3,"Cu_d":-3,"P_u":1.5,"P_d":-1.5,"In_u":6,"In_d":-6,"S_u":4,"S_d":-5,"Se_u":9,"Se_d":-10},
{"p":"b2","e":-0.018,"Cu_u":3,"Cu_d":-3,"P_u":1.5,"P_d":-1.5,"In_u":7,"In_d":-7,"S_u":5,"S_d":-5,"Se_u":9,"Se_d":-9},
{"p":"b2","e":-0.012,"Cu_u":2.5,"Cu_d":-2.5,"P_u":1.5,"P_d":-1.5,"In_u":9,"In_d":-10,"S_u":5,"S_d":-5,"Se_u":10,"Se_d":-12},
{"p":"b2","e":-0.006,"Cu_u":2,"Cu_d":-2,"P_u":1.2,"P_d":-1.2,"In_u":13,"In_d":-12,"S_u":4,"S_d":-4,"Se_u":25,"Se_d":-15},
{"p":"b2","e":-0.003,"Cu_u":1.5,"Cu_d":-1.5,"P_u":1,"P_d":-1,"In_u":8,"In_d":-8,"S_u":3,"S_d":-3,"Se_u":10,"Se_d":-27},
{"p":"b2","e":0,"Cu_u":0.5,"Cu_d":-0.5,"P_u":0.5,"P_d":-0.5,"In_u":2,"In_d":-2,"S_u":2,"S_d":-2,"Se_u":2,"Se_d":-2},
{"p":"b2","e":0.01,"Cu_u":0,"Cu_d":0,"P_u":0,"P_d":0,"In_u":0,"In_d":0,"S_u":1,"S_d":-1,"Se_u":0,"Se_d":0},
{"p":"b2","e":0.022,"Cu_u":0,"Cu_d":0,"P_u":0,"P_d":0,"In_u":0,"In_d":0,"S_u":1.5,"S_d":-1.5,"Se_u":0,"Se_d":0},
{"p":"b2","e":0.03,"Cu_u":0,"Cu_d":0,"P_u":0,"P_d":0,"In_u":0,"In_d":0,"S_u":0.3,"S_d":-0.3,"Se_u":0,"Se_d":0},
{"p":"b2","e":0.1,"Cu_u":0,"Cu_d":0,"P_u":0,"P_d":0,"In_u":0,"In_d":0,"S_u":0,"S_d":0,"Se_u":0,"Se_d":0}
]},
"spacing":9,
"hconcat":[
{"title":{"text":"(a)","dy":45,"dx":-5},"spacing":0,"bounds":"flush","vconcat":[
 {"width":228,"height":227,"layer":[
  {"data":{"values":[{}]},"mark":{"type":"rect","color":"#c8c8c8"},"encoding":{"x":{"datum":-0.29},"x2":{"datum":-0.045},"y":{"datum":45},"y2":{"datum":76}}},
  {"data":{"values":[{}]},"mark":{"type":"text","align":"left","baseline":"middle","fontSize":27,"fontWeight":"bold","font":"Open Sans","color":"black"},"encoding":{"x":{"datum":-0.286},"y":{"datum":60},"text":{"value":"FE1-0 hole"}}},
  {"data":{"values":[{}]},"mark":{"type":"rule","strokeDash":[12,7],"strokeWidth":2.5,"color":"black"},"encoding":{"x":{"datum":0}}},
  {"data":{"name":"d"},"transform":[{"filter":"datum.p==='a0'"},{"fold":["Cu_u","Cu_d","In_u","In_d","P_u","P_d","S_u","S_d","Se_u","Se_d"],"as":["k","v"]}],
   "mark":{"type":"line","strokeWidth":2.5},
   "encoding":{"x":{"field":"e","type":"quantitative","scale":{"domain":[-0.3,0.1],"nice":false,"zero":false},"axis":{"values":[-0.3,-0.2,-0.1,0,0.1],"labels":false,"title":null}},
    "y":{"field":"v","type":"quantitative","scale":{"domain":[-80,80],"nice":false},"axis":{"values":[80,40,0,-40,-80],"title":null}},
    "color":{"field":"k","type":"nominal","legend":null,"scale":{"domain":["Cu_u","Cu_d","In_u","In_d","P_u","P_d","S_u","S_d","Se_u","Se_d"],"range":["#000000","#000000","#22dd22","#22dd22","#dc9a62","#dc9a62","#e81e1e","#e81e1e","#1414f0","#1414f0"]}}}},
  {"data":{"values":[{}]},"mark":{"type":"text","fontSize":25,"fontWeight":"bold","font":"Open Sans","color":"#d4915a"},"encoding":{"x":{"datum":-0.225},"y":{"datum":15},"text":{"value":"P"}}},
  {"data":{"values":[{}]},"mark":{"type":"text","fontSize":25,"fontWeight":"bold","font":"Open Sans","color":"#1a1aff"},"encoding":{"x":{"datum":-0.056},"y":{"datum":32},"text":{"value":"Se"}}},
  {"data":{"values":[{}]},"mark":{"type":"text","fontSize":25,"fontWeight":"bold","font":"Open Sans","color":"black"},"encoding":{"x":{"datum":-0.261},"y":{"datum":-21},"text":{"value":"Cu"}}},
  {"data":{"values":[{}]},"mark":{"type":"text","fontSize":25,"fontWeight":"bold","font":"Open Sans","color":"#22dd22"},"encoding":{"x":{"datum":-0.112},"y":{"datum":-29.5},"text":{"value":"InSe-In"}}},
  {"data":{"values":[{}]},"mark":{"type":"text","fontSize":25,"fontWeight":"bold","font":"Open Sans","color":"#ee2222"},"encoding":{"x":{"datum":0.025},"y":{"datum":-17},"text":{"value":"S"}}}
 ]},
 {"width":228,"height":227,"layer":[
  {"data":{"values":[{}]},"mark":{"type":"rect","color":"#c8c8c8"},"encoding":{"x":{"datum":-0.29},"x2":{"datum":-0.002},"y":{"datum":43},"y2":{"datum":73}}},
  {"data":{"values":[{}]},"mark":{"type":"text","align":"left","baseline":"middle","fontSize":27,"fontWeight":"bold","font":"Open Sans","color":"black"},"encoding":{"x":{"datum":-0.286},"y":{"datum":58},"text":{"value":"FE1-0.1 hole"}}},
  {"data":{"values":[{}]},"mark":{"type":"rule","strokeDash":[12,7],"strokeWidth":2.5,"color":"black"},"encoding":{"x":{"datum":0}}},
  {"data":{"name":"d"},"transform":[{"filter":"datum.p==='a1'"},{"fold":["Cu_u","Cu_d","In_u","In_d","P_u","P_d","S_u","S_d","Se_u","Se_d"],"as":["k","v"]}],
   "mark":{"type":"line","strokeWidth":2.5},
   "encoding":{"x":{"field":"e","type":"quantitative","scale":{"domain":[-0.3,0.1],"nice":false,"zero":false},"axis":{"values":[-0.3,-0.2,-0.1,0,0.1],"labels":false,"title":null}},
    "y":{"field":"v","type":"quantitative","scale":{"domain":[-80,80],"nice":false},"axis":{"values":[40,0,-40,-80],"title":"PDOS (states/eV)","titlePadding":28,"titleY":93}},
    "color":{"field":"k","type":"nominal","legend":null,"scale":{"domain":["Cu_u","Cu_d","In_u","In_d","P_u","P_d","S_u","S_d","Se_u","Se_d"],"range":["#000000","#000000","#22dd22","#22dd22","#dc9a62","#dc9a62","#e81e1e","#e81e1e","#1414f0","#1414f0"]}}}}
 ]},
 {"width":228,"height":227,"layer":[
  {"data":{"values":[{}]},"mark":{"type":"rect","color":"#c8c8c8"},"encoding":{"x":{"datum":-0.29},"x2":{"datum":-0.002},"y":{"datum":43},"y2":{"datum":73}}},
  {"data":{"values":[{}]},"mark":{"type":"text","align":"left","baseline":"middle","fontSize":27,"fontWeight":"bold","font":"Open Sans","color":"black"},"encoding":{"x":{"datum":-0.286},"y":{"datum":58},"text":{"value":"FE1-0.3 hole"}}},
  {"data":{"values":[{}]},"mark":{"type":"rule","strokeDash":[12,7],"strokeWidth":2.5,"color":"black"},"encoding":{"x":{"datum":0}}},
  {"data":{"name":"d"},"transform":[{"filter":"datum.p==='a2'"},{"fold":["Cu_u","Cu_d","In_u","In_d","P_u","P_d","S_u","S_d","Se_u","Se_d"],"as":["k","v"]}],
   "mark":{"type":"line","strokeWidth":2.5},
   "encoding":{"x":{"field":"e","type":"quantitative","scale":{"domain":[-0.3,0.1],"nice":false,"zero":false},"axis":{"values":[-0.3,-0.2,-0.1,0,0.1],"format":".1f","title":null,"labelPadding":16,"labelFontSize":24}},
    "y":{"field":"v","type":"quantitative","scale":{"domain":[-80,80],"nice":false},"axis":{"values":[40,0,-40,-80],"title":null}},
    "color":{"field":"k","type":"nominal","legend":null,"scale":{"domain":["Cu_u","Cu_d","In_u","In_d","P_u","P_d","S_u","S_d","Se_u","Se_d"],"range":["#000000","#000000","#22dd22","#22dd22","#dc9a62","#dc9a62","#e81e1e","#e81e1e","#1414f0","#1414f0"]}}}}
 ]}
]},
{"title":{"text":"(b)","dy":45,"dx":-5},"spacing":0,"bounds":"flush","vconcat":[
 {"width":228,"height":227,"layer":[
  {"data":{"values":[{}]},"mark":{"type":"rect","color":"#c8c8c8"},"encoding":{"x":{"datum":-0.288},"x2":{"datum":-0.042},"y":{"datum":45},"y2":{"datum":76}}},
  {"data":{"values":[{}]},"mark":{"type":"text","align":"left","baseline":"middle","fontSize":27,"fontWeight":"bold","font":"Open Sans","color":"black"},"encoding":{"x":{"datum":-0.284},"y":{"datum":60},"text":{"value":"FE2-0 hole"}}},
  {"data":{"values":[{}]},"mark":{"type":"rule","strokeDash":[12,7],"strokeWidth":2.5,"color":"black"},"encoding":{"x":{"datum":0}}},
  {"data":{"name":"d"},"transform":[{"filter":"datum.p==='b0'"},{"fold":["Cu_u","Cu_d","In_u","In_d","P_u","P_d","S_u","S_d","Se_u","Se_d"],"as":["k","v"]}],
   "mark":{"type":"line","strokeWidth":2.5},
   "encoding":{"x":{"field":"e","type":"quantitative","scale":{"domain":[-0.3,0.1],"nice":false,"zero":false},"axis":{"values":[-0.3,-0.2,-0.1,0,0.1],"labels":false,"title":null}},
    "y":{"field":"v","type":"quantitative","scale":{"domain":[-80,80],"nice":false},"axis":{"values":[80,40,0,-40,-80],"title":null}},
    "color":{"field":"k","type":"nominal","legend":null,"scale":{"domain":["Cu_u","Cu_d","In_u","In_d","P_u","P_d","S_u","S_d","Se_u","Se_d"],"range":["#000000","#000000","#22dd22","#22dd22","#dc9a62","#dc9a62","#e81e1e","#e81e1e","#1414f0","#1414f0"]}}}}
 ]},
 {"width":228,"height":227,"layer":[
  {"data":{"values":[{}]},"mark":{"type":"rect","color":"#c8c8c8"},"encoding":{"x":{"datum":-0.288},"x2":{"datum":0},"y":{"datum":43},"y2":{"datum":73}}},
  {"data":{"values":[{}]},"mark":{"type":"text","align":"left","baseline":"middle","fontSize":27,"fontWeight":"bold","font":"Open Sans","color":"black"},"encoding":{"x":{"datum":-0.284},"y":{"datum":58},"text":{"value":"FE2-0.1 hole"}}},
  {"data":{"values":[{}]},"mark":{"type":"rule","strokeDash":[12,7],"strokeWidth":2.5,"color":"black"},"encoding":{"x":{"datum":0}}},
  {"data":{"name":"d"},"transform":[{"filter":"datum.p==='b1'"},{"fold":["Cu_u","Cu_d","In_u","In_d","P_u","P_d","S_u","S_d","Se_u","Se_d"],"as":["k","v"]}],
   "mark":{"type":"line","strokeWidth":2.5},
   "encoding":{"x":{"field":"e","type":"quantitative","scale":{"domain":[-0.3,0.1],"nice":false,"zero":false},"axis":{"values":[-0.3,-0.2,-0.1,0,0.1],"labels":false,"title":null}},
    "y":{"field":"v","type":"quantitative","scale":{"domain":[-80,80],"nice":false},"axis":{"values":[40,0,-40,-80],"title":"PDOS (states/eV)","titlePadding":28,"titleY":93}},
    "color":{"field":"k","type":"nominal","legend":null,"scale":{"domain":["Cu_u","Cu_d","In_u","In_d","P_u","P_d","S_u","S_d","Se_u","Se_d"],"range":["#000000","#000000","#22dd22","#22dd22","#dc9a62","#dc9a62","#e81e1e","#e81e1e","#1414f0","#1414f0"]}}}}
 ]},
 {"width":228,"height":227,"layer":[
  {"data":{"values":[{}]},"mark":{"type":"rect","color":"#c8c8c8"},"encoding":{"x":{"datum":-0.288},"x2":{"datum":0},"y":{"datum":43},"y2":{"datum":73}}},
  {"data":{"values":[{}]},"mark":{"type":"text","align":"left","baseline":"middle","fontSize":27,"fontWeight":"bold","font":"Open Sans","color":"black"},"encoding":{"x":{"datum":-0.284},"y":{"datum":58},"text":{"value":"FE2-0.3 hole"}}},
  {"data":{"values":[{}]},"mark":{"type":"rule","strokeDash":[12,7],"strokeWidth":2.5,"color":"black"},"encoding":{"x":{"datum":0}}},
  {"data":{"name":"d"},"transform":[{"filter":"datum.p==='b2'"},{"fold":["Cu_u","Cu_d","In_u","In_d","P_u","P_d","S_u","S_d","Se_u","Se_d"],"as":["k","v"]}],
   "mark":{"type":"line","strokeWidth":2.5},
   "encoding":{"x":{"field":"e","type":"quantitative","scale":{"domain":[-0.3,0.1],"nice":false,"zero":false},"axis":{"values":[-0.3,-0.2,-0.1,0,0.1],"format":".1f","title":null,"labelPadding":16,"labelFontSize":24}},
    "y":{"field":"v","type":"quantitative","scale":{"domain":[-80,80],"nice":false},"axis":{"values":[40,0,-40,-80],"title":null}},
    "color":{"field":"k","type":"nominal","legend":null,"scale":{"domain":["Cu_u","Cu_d","In_u","In_d","P_u","P_d","S_u","S_d","Se_u","Se_d"],"range":["#000000","#000000","#22dd22","#22dd22","#dc9a62","#dc9a62","#e81e1e","#e81e1e","#1414f0","#1414f0"]}}}}
 ]}
]}
]
}
